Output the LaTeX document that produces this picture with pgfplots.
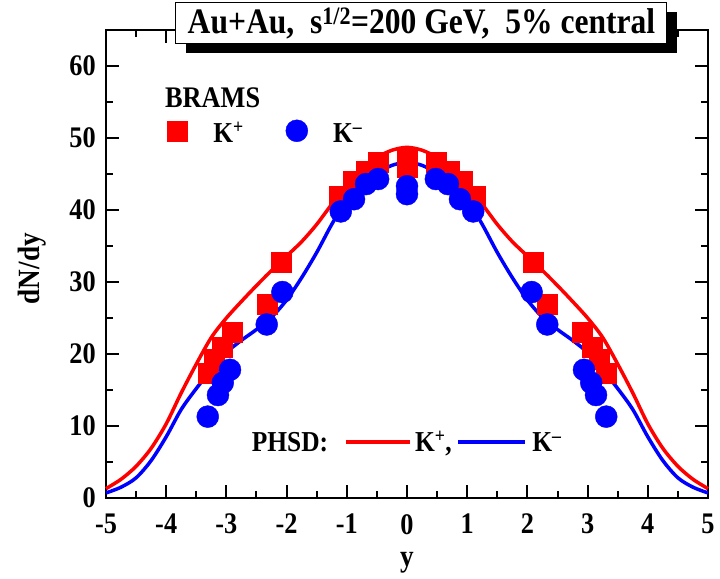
\documentclass[border=0pt]{standalone}
\usepackage{fontspec}
\setmainfont{Liberation Serif}[FakeStretch=0.88]
\usepackage{pgfplots}
\pgfplotsset{compat=1.18}
\begin{document}
\begin{tikzpicture}
\begin{axis}[name=ax, scale only axis, width=602bp, height=468bp,
 xmin=-5, xmax=5, ymin=0, ymax=65,
 xtick={-5,-4,...,5}, minor x tick num=1,
 ytick={0,10,...,60}, minor ytick={5,15,...,65},
 tick align=inside, major tick length=13bp, minor tick length=7bp,
 axis line style={line width=2bp},
 every tick/.style={black, line width=2bp},
 tick label style={font=\fontsize{30}{32}\selectfont\bfseries, inner sep=1bp},
 xticklabel style={yshift=-15bp},
 yticklabel style={xshift=-9bp},
 /pgf/number format/assume math mode=true,
 xlabel={y}, ylabel={dN/dy},
 label style={font=\fontsize{31}{33}\selectfont\bfseries},
 xlabel style={at={(rel axis cs:0.5,-0.138)}, anchor=center},
 ylabel style={at={(rel axis cs:-0.123,0.49)}, anchor=center, rotate=0},
 clip=false]
% BRAMS K+
\addplot[only marks, mark=square*, mark size=10bp, color=red] coordinates {
(-3.31,17.4) (-3.20,19.3) (-3.07,21.0) (-2.91,23.0) (-2.33,26.9) (-2.09,32.7)
(-1.13,41.9) (-0.90,44.0) (-0.68,45.4) (-0.48,46.7) (0,47.1) (0,45.9)
(0.48,46.7) (0.70,45.4) (0.92,44.0) (1.13,41.9) (2.09,32.7) (2.33,26.9)
(2.91,23.0) (3.07,21.0) (3.20,19.3) (3.31,17.4)};
% PHSD K+
\addplot[red, line width=3.5bp, smooth] coordinates {
(-5,1.3) (-4.75,2.6) (-4.5,4.4) (-4.25,6.9) (-4,10.3) (-3.75,14.6) (-3.5,18.6)
(-3.25,22.3) (-3,25.0) (-2.75,27.3) (-2.5,29.5) (-2.25,31.6) (-2,33.6) (-1.75,35.6)
(-1.5,38.0) (-1.25,40.8) (-1,43.4) (-0.75,45.8) (-0.5,47.3) (-0.25,48.3) (0,48.7)
(0.25,48.3) (0.5,47.3) (0.75,45.8) (1,43.4) (1.25,40.8) (1.5,38.0) (1.75,35.6)
(2,33.6) (2.25,31.6) (2.5,29.5) (2.75,27.3) (3,25.0) (3.25,22.3) (3.5,18.6)
(3.75,14.6) (4,10.3) (4.25,6.9) (4.5,4.4) (4.75,2.6) (5,1.3)};
% PHSD K-
\addplot[blue, line width=3.5bp, smooth] coordinates {
(-5,0.7) (-4.75,1.5) (-4.5,2.8) (-4.25,5.2) (-4,8.5) (-3.75,12.3) (-3.5,15.2)
(-3.25,17.8) (-3,20.2) (-2.75,21.9) (-2.5,23.4) (-2.25,25.1) (-2,27.5) (-1.75,30.6)
(-1.5,34.1) (-1.25,38.0) (-1,41.4) (-0.75,43.6) (-0.5,45.1) (-0.25,46.2) (0,46.6)
(0.25,46.2) (0.5,45.1) (0.75,43.6) (1,41.4) (1.25,38.0) (1.5,34.1) (1.75,30.6)
(2,27.5) (2.25,25.1) (2.5,23.4) (2.75,21.9) (3,20.2) (3.25,17.8) (3.5,15.2)
(3.75,12.3) (4,8.5) (4.25,5.2) (4.5,2.8) (4.75,1.5) (5,0.7)};
% BRAMS K-
\addplot[only marks, mark=*, mark size=11bp, color=blue] coordinates {
(-3.31,11.3) (-3.14,14.3) (-3.06,16.0) (-2.94,17.8) (-2.33,24.1) (-2.07,28.6)
(-1.10,39.8) (-0.88,41.5) (-0.68,43.6) (-0.48,44.3) (0,43.3) (0,42.2)
(0.48,44.3) (0.68,43.6) (0.88,41.5) (1.10,39.8) (2.07,28.6) (2.33,24.1)
(2.94,17.8) (3.06,16.0) (3.14,14.3) (3.31,11.3)};
% legend symbols
\addplot[only marks, mark=square*, mark size=10bp, color=red] coordinates {(-3.82,51.0)};
\addplot[only marks, mark=*, mark size=11bp, color=blue] coordinates {(-1.83,51.0)};
\node[anchor=base west, inner sep=0, font=\fontsize{30}{32}\selectfont\bfseries] at (axis cs:-4.02,54.2) {BRAMS};
\node[anchor=base west, inner sep=0, font=\fontsize{29}{31}\selectfont\bfseries] at (axis cs:-3.22,49.4) {K\textsuperscript{+}};
\node[anchor=base west, inner sep=0, font=\fontsize{29}{31}\selectfont\bfseries] at (axis cs:-1.23,49.4) {K\textsuperscript{--}};
% PHSD legend
\addplot[red, line width=3.5bp] coordinates {(-1.01,7.8) (0.05,7.8)};
\addplot[blue, line width=3.5bp] coordinates {(0.85,7.8) (1.96,7.8)};
\node[anchor=base west, inner sep=0, font=\fontsize{29}{31}\selectfont\bfseries] at (axis cs:-2.58,6.4) {PHSD:};
\node[anchor=base west, inner sep=0, font=\fontsize{29}{31}\selectfont\bfseries] at (axis cs:0.13,6.4) {K\textsuperscript{+},};
\node[anchor=base west, inner sep=0, font=\fontsize{29}{31}\selectfont\bfseries] at (axis cs:2.08,6.4) {K\textsuperscript{--}};
% title box
\node[fill=black, minimum width=491bp, minimum height=41bp, inner sep=0, xshift=10bp, yshift=-9bp] at (axis cs:0.24,65.95) {};
\node[draw=black, line width=1bp, fill=white, minimum width=491bp, minimum height=41bp, inner sep=0, font=\fontsize{36}{38}\selectfont\bfseries] at (axis cs:0.24,65.95) {Au+Au,\ \ s\textsuperscript{1/2}=200 GeV,\ \ 5\% central};
\end{axis}
\pgfresetboundingbox
\path[use as bounding box] ([xshift=-106bp,yshift=-81bp]ax.south west) rectangle ([xshift=12bp,yshift=30bp]ax.north east);
\end{tikzpicture}
\end{document}
